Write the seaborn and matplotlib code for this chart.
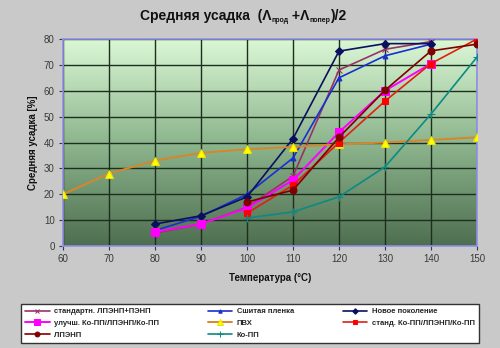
import numpy as np
import pandas as pd
import matplotlib
matplotlib.use("Agg")
import matplotlib.pyplot as plt
import seaborn as sns
from matplotlib.colors import LinearSegmentedColormap

# ---- data ----
temps_std_lpe = [80, 90, 100, 110, 120, 130, 140]
std_lpe = [5, 8.5, 15, 27, 68, 76, 79]

temps_cross = [80, 90, 100, 110, 120, 130, 140]
cross = [6, 11.5, 20, 34, 65, 73.5, 78]

temps_new = [80, 90, 100, 110, 120, 130, 140]
new_gen = [8.5, 11.7, 19, 41.5, 75.3, 78.2, 78.2]

temps_impr = [80, 90, 100, 110, 120, 130, 140]
impr = [5.5, 8.5, 14.7, 25.5, 44, 60, 70.5]

temps_pvc = [60, 70, 80, 90, 100, 110, 120, 130, 140, 150]
pvc = [20, 28, 33, 36, 37.4, 38.3, 39.3, 40, 41, 42]

temps_std_copp = [100, 110, 120, 130, 140, 150]
std_copp = [12.7, 23.5, 40, 56, 70.5, 80]

temps_lldpe = [100, 110, 120, 130, 140, 150]
lldpe = [17, 21.6, 42, 60.2, 75.4, 78]

temps_copp = [100, 110, 120, 130, 140, 150]
copp = [10.8, 13.2, 19, 30.6, 51, 73]

labels = ["стандартн. ЛПЭНП+ПЭНП", "Сшитая пленка", "Новое поколение",
          "улучш. Ко-ПП/ЛПЭНП/Ко-ПП", "ПВХ", "станд. Ко-ПП/ЛПЭНП/Ко-ПП",
          "ЛПЭНП", "Ко-ПП"]
x_ticks = [60, 70, 80, 90, 100, 110, 120, 130, 140, 150]
y_ticks = [0, 10, 20, 30, 40, 50, 60, 70, 80]

xlabel = "Температура (°C)"
ylabel = "Средняя усадка [%]"

series = [
    (labels[0], temps_std_lpe, std_lpe, dict(color="#993366", marker="x", markersize=5, mec="#993366", mfc="#993366", lw=1.2)),
    (labels[1], temps_cross, cross, dict(color="#1a2fd0", marker="^", markersize=3.5, mec="#1a2fd0", mfc="#1a2fd0", lw=1.2)),
    (labels[2], temps_new, new_gen, dict(color="#0a1060", marker="D", markersize=4, mec="#0a1060", mfc="#0a1060", lw=1.2)),
    (labels[3], temps_impr, impr, dict(color="#ff00ff", marker="s", markersize=5.5, mec="#ff00ff", mfc="#ff00ff", lw=1.4)),
    (labels[4], temps_pvc, pvc, dict(color="#d8862a", marker="^", markersize=6, mec="#f0e000", mfc="#ffff00", lw=1.4)),
    (labels[5], temps_std_copp, std_copp, dict(color="#e02010", marker="s", markersize=5, mec="#ff0000", mfc="#ff0000", lw=1.2)),
    (labels[6], temps_lldpe, lldpe, dict(color="#800000", marker="o", markersize=5, mec="#800000", mfc="#800000", lw=1.2)),
    (labels[7], temps_copp, copp, dict(color="#0c8a84", marker="+", markersize=6, mec="#0c8a84", mfc="#0c8a84", lw=1.2)),
]

sns.set_theme(style="white")
plt.rcParams["font.family"] = ["Liberation Sans", "DejaVu Sans"]

fig = plt.figure(figsize=(5.0, 3.48), dpi=100)
fig.patch.set_facecolor("#c9c9c9")
ax = fig.add_axes([0.126, 0.293, 0.828, 0.595])

# gradient background
cmap = LinearSegmentedColormap.from_list("g", ["#4e6e50", "#8db68e", "#dcf8d6"])
grad = np.linspace(0, 1, 256).reshape(-1, 1)
ax.imshow(grad, extent=[60, 150, 0, 80], origin="lower", aspect="auto",
          cmap=cmap, zorder=0)

handles = {}
for name, xs, ys, st in series:
    df = pd.DataFrame({"x": xs, "y": ys})
    sns.lineplot(data=df, x="x", y="y", ax=ax, color=st["color"], marker=st["marker"],
                 markersize=st["markersize"], markeredgecolor=st["mec"],
                 markerfacecolor=st["mfc"], linewidth=st["lw"], zorder=3,
                 label=name, legend=False)
    handles[name] = ax.lines[-1]

ax.set_xlim(60, 150)
ax.set_ylim(0, 80)
ax.set_xticks(x_ticks)
ax.set_yticks(y_ticks)
ax.grid(True, color="#1c2e1c", linewidth=1.0, zorder=1)
for ln in ax.get_xgridlines() + ax.get_ygridlines():
    ln.set_zorder(1)
for s in ax.spines.values():
    s.set_color("#9090e8")
    s.set_linewidth(1.2)
ax.tick_params(axis="both", labelsize=7, colors="#3a3a3a", length=3, width=0.8,
               direction="out", pad=3)
ax.tick_params(axis="y", left=True, color="#333366")
ax.tick_params(axis="x", bottom=True, color="#333366")
ax.set_xlabel(xlabel, fontsize=7, fontweight="bold", color="#111111", labelpad=6)
ax.set_ylabel(ylabel, fontsize=7, fontweight="bold", color="#111111", labelpad=4)

# title with small subscripts
t_parts = [("Средняя усадка  (Λ", 10, 0), ("прод", 5, -2.5), (" +Λ", 10, 0),
           ("попер", 5, -2.5), (")/2", 10, 0)]
renderer = fig.canvas.get_renderer()
texts = []
for s, fs, dy in t_parts:
    texts.append(fig.text(0, 0, s, fontsize=fs, fontweight="bold", color="#111111",
                          va="baseline", ha="left"))
widths = [t.get_window_extent(renderer).width for t in texts]
total = sum(widths)
x0 = 243 - total / 2
base_y = 348 - 20
for t, w, (s, fs, dy) in zip(texts, widths, t_parts):
    t.set_position((x0 / 500, (base_y + dy) / 348))
    x0 += w

order = [labels[0], labels[3], labels[6], labels[1], labels[4], labels[7], labels[2], labels[5]]
leg = fig.legend([handles[n] for n in order], order, ncol=3,
                 loc="center", bbox_to_anchor=(0.035, 0.008, 0.93, 0.125),
                 mode="expand", frameon=True, fancybox=False, markerscale=0.7,
                 framealpha=1.0,
                 handlelength=3.2, columnspacing=1.0, labelspacing=0.6,
                 borderpad=0.5, handletextpad=0.6, prop={"weight": "bold", "size": 5.5})
leg.get_frame().set_edgecolor("#333333")
leg.get_frame().set_linewidth(1.0)
leg.get_frame().set_facecolor("white")

fig.savefig("out.png", dpi=100, facecolor=fig.get_facecolor())
